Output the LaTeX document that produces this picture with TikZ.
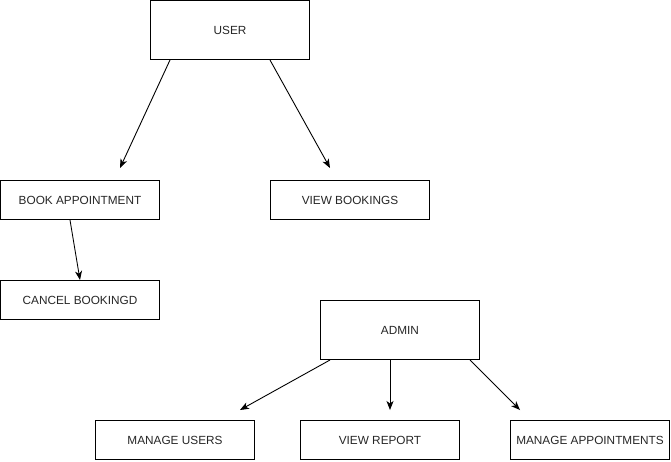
\documentclass[tikz,border=0pt]{standalone}
\usepackage{fontspec}
\setmainfont{Liberation Sans}
\usetikzlibrary{arrows.meta}
\begin{document}
\begin{tikzpicture}[x=1pt,y=-1pt,
  box/.style={draw,line width=1pt,inner sep=0pt,font=\fontsize{11.8}{14}\selectfont,text=black!85,anchor=center},
  big/.style={box,minimum width=159pt,minimum height=59pt},
  small/.style={box,minimum width=159pt,minimum height=39pt},
  conn/.style={line width=0.9pt,-{Stealth[length=9pt,width=7pt,inset=2.5pt]}}]
\useasboundingbox (0,0) rectangle (671,461);
\node[big] (user) at (230,30) {USER};
\node[small] (book) at (80,200) {BOOK APPOINTMENT};
\node[small] (viewb) at (350,200) {VIEW BOOKINGS};
\node[small] (cancel) at (80,300) {CANCEL BOOKINGD};
\node[big] (admin) at (400,330) {ADMIN};
\node[small] (musers) at (175,440) {MANAGE USERS};
\node[small] (vreport) at (380,440) {VIEW REPORT};
\node[small] (mapp) at (590,440) {MANAGE APPOINTMENTS};
\coordinate (e1) at (120,168);
\coordinate (e2) at (330,168);
\coordinate (e4) at (240,410);
\coordinate (e5) at (390,410);
\coordinate (e6) at (520,410);
\draw[conn] ([xshift=-60pt]user.south) -- (e1);
\draw[conn] ([xshift=40pt]user.south) -- (e2);
\draw[conn] ([xshift=-10pt]book.south) -- ([xshift=0pt]cancel.north);
\draw[conn] ([xshift=-70pt]admin.south) -- (e4);
\draw[conn] ([xshift=-10pt]admin.south) -- (e5);
\draw[conn] ([xshift=70pt]admin.south) -- (e6);
\end{tikzpicture}
\end{document}
